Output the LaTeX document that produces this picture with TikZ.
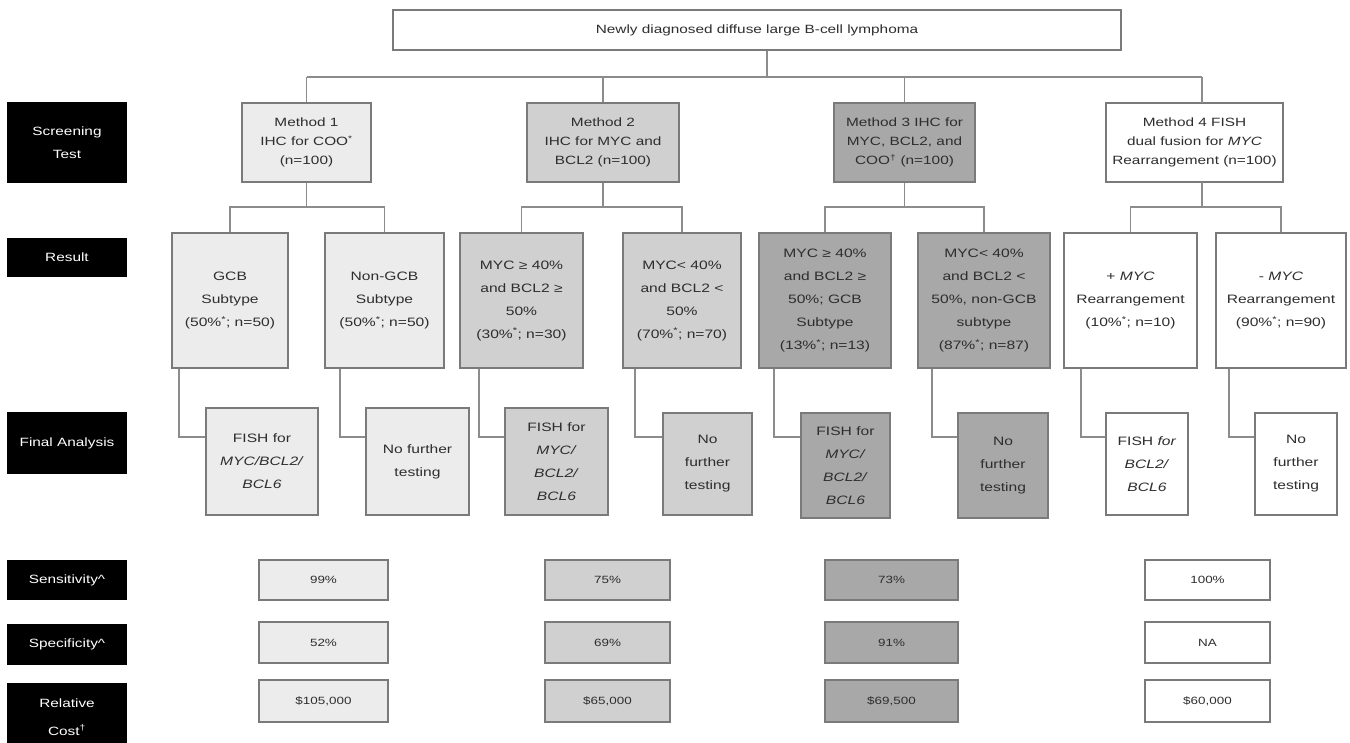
\documentclass[tikz,border=0pt]{standalone}
\usepackage{fontspec}
\setmainfont{Liberation Sans}[FakeStretch=1.28]
\definecolor{bordc}{HTML}{7A7A7A}
\definecolor{linec}{HTML}{8C8C8C}
\definecolor{txtc}{HTML}{2E2E2E}
\definecolor{fillA}{HTML}{ECECEC}
\definecolor{fillB}{HTML}{D0D0D0}
\definecolor{fillC}{HTML}{A8A8A8}
\newcommand\fmeth{\fontsize{12}{19}\selectfont}
\newcommand\fres{\fontsize{12.2}{23}\selectfont}
\newcommand\ffin{\fontsize{12.2}{23}\selectfont}
\newcommand\fval{\fontsize{10.5}{14}\selectfont}
\newcommand\flab{\fontsize{12}{23}\selectfont}
\tikzset{
  box/.style={draw=bordc, line width=1.4pt, align=center, inner sep=1pt, text=txtc},
  mbox/.style={box, font=\fmeth},
  rbox/.style={box, font=\fres},
  fbox/.style={box, font=\ffin},
  vbox/.style={box, font=\fval},
  lab/.style={fill=black, text=white, align=center, inner sep=1pt, font=\flab, minimum width=120},
  conn/.style={draw=linec, line width=1.4pt},
  c1/.style={fill=fillA},
  c2/.style={fill=fillB},
  c3/.style={fill=fillC},
  c4/.style={fill=white}
}
\begin{document}
\begin{tikzpicture}[x=1pt,y=-1pt]
\clip (0,0) rectangle (1350,742);
\fill[white] (0,0) rectangle (1350,742);

% left labels
\node[lab, minimum height=81] (lscr) at (67,142.5) {Screening\\Test};
\node[lab, minimum height=39] (lres) at (67,257.5) {Result};
\node[lab, minimum height=62] (lfin) at (67,443) {Final Analysis};
\node[lab, minimum height=40] (lsen) at (67,580) {Sensitivity\textasciicircum};
\node[lab, minimum height=41] (lspe) at (67,644.5) {Specificity\textasciicircum};
\node[lab, minimum height=68, font=\fontsize{12}{28}\selectfont] (lcos) at (67,717) {Relative\\Cost\textsuperscript{†}};

% top
\node[box, fill=white, minimum width=728, minimum height=40, font=\fontsize{12}{16}\selectfont] (top) at (757,30) {Newly diagnosed diffuse large B-cell lymphoma};

% methods
\node[mbox, c1, minimum width=129, minimum height=79] (m1) at (306.5,142.5) {Method 1\\IHC for COO\textsuperscript{*}\\(n=100)};
\node[mbox, c2, minimum width=152, minimum height=79] (m2) at (603,142.5) {Method 2\\IHC for MYC and\\BCL2 (n=100)};
\node[mbox, c3, minimum width=141, minimum height=79] (m3) at (904.5,142.5) {Method 3 IHC for\\MYC, BCL2, and\\COO\textsuperscript{†} (n=100)};
\node[mbox, c4, minimum width=177, minimum height=79] (m4) at (1194.5,142.5) {Method 4 FISH\\dual fusion for \textit{MYC}\\Rearrangement (n=100)};

% results
\node[rbox, c1, minimum width=116, minimum height=135] (r1a) at (230,300.5) {GCB\\Subtype\\(50\%\textsuperscript{*}; n=50)};
\node[rbox, c1, minimum width=119, minimum height=135] (r1b) at (384.5,300.5) {Non-GCB\\Subtype\\(50\%\textsuperscript{*}; n=50)};
\node[rbox, c2, minimum width=123, minimum height=135] (r2a) at (521.5,300.5) {MYC ≥ 40\%\\and BCL2 ≥\\50\%\\(30\%\textsuperscript{*}; n=30)};
\node[rbox, c2, minimum width=118, minimum height=135] (r2b) at (682,300.5) {MYC< 40\%\\and BCL2 <\\50\%\\(70\%\textsuperscript{*}; n=70)};
\node[rbox, c3, minimum width=132, minimum height=135] (r3a) at (825,300.5) {MYC ≥ 40\%\\and BCL2 ≥\\50\%; GCB\\Subtype\\(13\%\textsuperscript{*}; n=13)};
\node[rbox, c3, minimum width=132, minimum height=135] (r3b) at (984,300.5) {MYC< 40\%\\and BCL2 <\\50\%, non-GCB\\subtype\\(87\%\textsuperscript{*}; n=87)};
\node[rbox, c4, minimum width=133, minimum height=135] (r4a) at (1130.5,300.5) {+ \textit{MYC}\\Rearrangement\\(10\%\textsuperscript{*}; n=10)};
\node[rbox, c4, minimum width=130, minimum height=135] (r4b) at (1281,300.5) {- \textit{MYC}\\Rearrangement\\(90\%\textsuperscript{*}; n=90)};

% finals
\node[fbox, c1, minimum width=112, minimum height=107] (f1a) at (262,461.5) {FISH for\\\textit{MYC/BCL2/}\\\textit{BCL6}};
\node[fbox, c1, minimum width=103, minimum height=107] (f1b) at (417.5,461.5) {No further\\testing};
\node[fbox, c2, minimum width=103, minimum height=107] (f2a) at (556.5,461.5) {FISH for\\\textit{MYC/}\\\textit{BCL2/}\\\textit{BCL6}};
\node[fbox, c2, minimum width=89, minimum height=102] (f2b) at (707.5,464) {No\\further\\testing};
\node[fbox, c3, minimum width=89, minimum height=105] (f3a) at (845.5,465.5) {FISH for\\\textit{MYC/}\\\textit{BCL2/}\\\textit{BCL6}};
\node[fbox, c3, minimum width=90, minimum height=105] (f3b) at (1003,465.5) {No\\further\\testing};
\node[fbox, c4, minimum width=82, minimum height=102] (f4a) at (1147,464) {FISH \textit{for}\\\textit{BCL2/}\\\textit{BCL6}};
\node[fbox, c4, minimum width=82, minimum height=102] (f4b) at (1296,464) {No\\further\\testing};

% values
\node[vbox, c1, minimum width=129, minimum height=40] (s1) at (323.5,580) {99\%};
\node[vbox, c2, minimum width=125, minimum height=40] (s2) at (607.5,580) {75\%};
\node[vbox, c3, minimum width=133, minimum height=40] (s3) at (891.5,580) {73\%};
\node[vbox, c4, minimum width=125, minimum height=40] (s4) at (1207.5,580) {100\%};
\node[vbox, c1, minimum width=129, minimum height=41] (p1) at (323.5,642.5) {52\%};
\node[vbox, c2, minimum width=125, minimum height=41] (p2) at (607.5,642.5) {69\%};
\node[vbox, c3, minimum width=133, minimum height=41] (p3) at (891.5,642.5) {91\%};
\node[vbox, c4, minimum width=125, minimum height=41] (p4) at (1207.5,642.5) {NA};
\node[vbox, c1, minimum width=129, minimum height=42] (k1) at (323.5,701) {\$105,000};
\node[vbox, c2, minimum width=125, minimum height=42] (k2) at (607.5,701) {\$65,000};
\node[vbox, c3, minimum width=133, minimum height=42] (k3) at (891.5,701) {\$69,500};
\node[vbox, c4, minimum width=125, minimum height=42] (k4) at (1207.5,701) {\$60,000};

% connectors top
\coordinate (j0) at (767,77);
\coordinate (m4s) at (1202,103);
\draw[conn] (top.south -| j0) -- (j0);
\draw[conn] (m1.north |- j0) -- (m4s |- j0);
\draw[conn] (m1.north |- j0) -- (m1.north);
\draw[conn] (m2.north |- j0) -- (m2.north);
\draw[conn] (m3.north |- j0) -- (m3.north);
\draw[conn] (m4s |- j0) -- (m4s);

% methods to results
\coordinate (hb) at (0,207);
\coordinate (m4b) at (1202,182);
\draw[conn] (m1.south) -- (m1.south |- hb);
\draw[conn] (m2.south) -- (m2.south |- hb);
\draw[conn] (m3.south) -- (m3.south |- hb);
\draw[conn] (m4b) -- (m4b |- hb);
\foreach \a/\b in {r1a/r1b, r2a/r2b, r3a/r3b, r4a/r4b}{
  \draw[conn] (\a.north) -- (\a.north |- hb) -- (\b.north |- hb) -- (\b.north);
}

% results to finals
\coordinate (hf) at (0,437);
\coordinate (x1a) at (179,0);
\coordinate (x1b) at (340,0);
\coordinate (x2a) at (479,0);
\coordinate (x2b) at (635,0);
\coordinate (x3a) at (774,0);
\coordinate (x3b) at (932,0);
\coordinate (x4a) at (1081,0);
\coordinate (x4b) at (1229,0);
\foreach \n in {1a,1b,2a,2b,3a,3b,4a,4b}{
  \draw[conn] (r\n.south -| x\n) -- (x\n |- hf) -- (f\n.west |- hf);
}
\end{tikzpicture}
\end{document}
